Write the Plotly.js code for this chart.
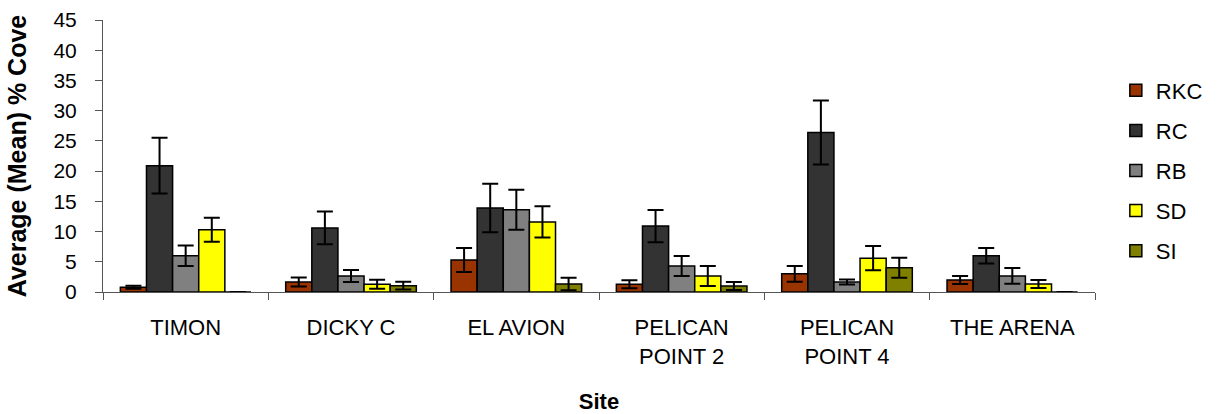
<!DOCTYPE html>
<html>
<head>
<meta charset="utf-8">
<script src="https://cdn.plot.ly/plotly-3.0.1.min.js"></script>
<style>html,body{margin:0;padding:0;background:#fff;}#chart{width:1223px;height:414px;}</style>
</head>
<body>
<div id="chart"></div>
<script>
const sites = ["TIMON", "DICKY C", "EL AVION", "PELICAN<br>POINT 2", "PELICAN<br>POINT 4", "THE ARENA"];
const seriesNames = ["RKC", "RC", "RB", "SD", "SI"];

const rkc = [0.8, 1.65, 5.3, 1.3, 3.0, 2.0];
const rkcErr = [0.25, 0.75, 2.0, 0.66, 1.3, 0.66];
const rc = [20.9, 10.6, 13.9, 10.9, 26.4, 6.0];
const rcErr = [4.6, 2.7, 4.0, 2.65, 5.3, 1.3];
const rb = [6.0, 2.65, 13.6, 4.3, 1.65, 2.65];
const rbErr = [1.7, 1.0, 3.3, 1.65, 0.4, 1.3];
const sd = [10.3, 1.27, 11.6, 2.65, 5.6, 1.32];
const sdErr = [2.0, 0.75, 2.6, 1.65, 2.0, 0.66];
const si = [0, 1.05, 1.32, 1.0, 4.0, 0];
const siErr = [0, 0.65, 1.05, 0.66, 1.65, 0];

const seriesValues = [rkc, rc, rb, sd, si];
const seriesErrors = [rkcErr, rcErr, rbErr, sdErr, siErr];
const seriesColors = ["#993300", "#333333", "#808080", "#FFFF00", "#808000"];

const font = "Arial, 'Liberation Sans', Helvetica, sans-serif";

const traces = seriesNames.map((name, i) => ({
  type: "bar",
  name: name,
  legendgroup: "g" + i,
  x: sites,
  y: seriesValues[i],
  marker: {color: seriesColors[i], line: {color: "#000000", width: 1.5}},
  error_y: {type: "data", array: seriesErrors[i], visible: true, color: "#000000", thickness: 2, width: 8}
}));

const layout = {
  width: 1223,
  height: 414,
  margin: {l: 103, r: 128, t: 20, b: 122},
  paper_bgcolor: "#ffffff",
  plot_bgcolor: "#ffffff",
  barmode: "group",
  bargap: 0.21,
  bargroupgap: 0,
  font: {family: font, color: "#000000"},
  showlegend: true,
  legend: {
    x: 1.021, xanchor: "left",
    y: 0.818, yanchor: "top",
    font: {family: font, size: 22, color: "#000000"},
    traceorder: "grouped",
    tracegroupgap: 8.5,
    bgcolor: "rgba(0,0,0,0)"
  },
  xaxis: {
    type: "category",
    showline: true,
    linecolor: "#555555",
    linewidth: 1,
    ticks: "outside",
    tickson: "boundaries",
    ticklen: 7,
    tickcolor: "#555555",
    showgrid: false,
    ticklabelstandoff: 16,
    tickfont: {family: font, size: 22, color: "#000000"},
    title: {text: "Site", font: {family: font, size: 22, color: "#000000", weight: "bold"}, standoff: 27}
  },
  yaxis: {
    range: [0, 45],
    dtick: 5,
    showline: true,
    linecolor: "#555555",
    linewidth: 1,
    ticks: "outside",
    ticklen: 7,
    tickcolor: "#555555",
    showgrid: false,
    zeroline: false,
    ticklabelstandoff: 14,
    tickfont: {family: font, size: 21, color: "#000000"},
    title: {text: "Average (Mean) % Cove", font: {family: font, size: 25, color: "#000000", weight: "bold"}, standoff: 19}
  }
};

Plotly.newPlot("chart", traces, layout, {displayModeBar: false, staticPlot: true});
</script>
</body>
</html>
